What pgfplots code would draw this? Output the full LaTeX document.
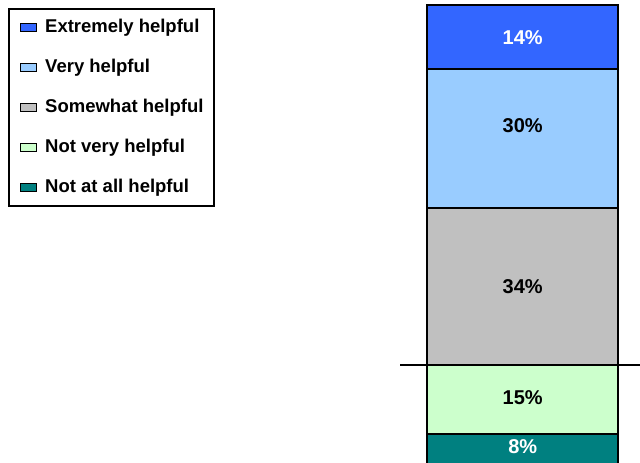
\documentclass[border=0pt]{standalone}
\usepackage{pgfplots}
\pgfplotsset{compat=1.18}
\usepackage{fontspec}
\setmainfont{Liberation Sans}
\definecolor{cExt}{HTML}{3366FF}
\definecolor{cVery}{HTML}{99CCFF}
\definecolor{cSome}{HTML}{C0C0C0}
\definecolor{cNotv}{HTML}{CCFFCC}
\definecolor{cNotall}{HTML}{008080}
\begin{document}
\begin{tikzpicture}
\begin{axis}[
  name=ax,
  scale only axis,
  width=640pt, height=480.1pt,
  xmin=0, xmax=640,
  ymin=-2, ymax=102.04,
  hide axis,
  clip=true,
  ybar stacked,
  bar width=191.5pt,
  reverse legend,
  legend cell align=left,
  legend style={
    at={(rel axis cs:0.0125,{1-8/480.1})}, anchor=north west,
    draw=black, line width=2pt,
    inner xsep=11pt, inner ysep=9.5pt,
    row sep=22pt,
    font=\bfseries\fontsize{18.5}{20}\selectfont,
    nodes={inner sep=0pt, text height=14pt, text depth=4pt},
    /tikz/every odd column/.append style={column sep=8pt},
  },
  legend image code/.code={\draw[#1, line width=1.2pt, draw=black] (0pt,-4pt) rectangle (16pt,4pt);},
]
\addplot[fill=cNotall, draw=black, line width=2pt] coordinates {(522.7,8)};
\addlegendentry{Not at all helpful}
\addplot[fill=cNotv, draw=black, line width=2pt] coordinates {(522.7,15)};
\addlegendentry{Not very helpful}
\addplot[fill=cSome, draw=black, line width=2pt] coordinates {(522.7,34)};
\addlegendentry{Somewhat helpful}
\addplot[fill=cVery, draw=black, line width=2pt] coordinates {(522.7,30)};
\addlegendentry{Very helpful}
\addplot[fill=cExt, draw=black, line width=2pt] coordinates {(522.7,14)};
\addlegendentry{Extremely helpful}
\draw[black, line width=2pt] (axis cs:400,23) -- (axis cs:640,23);
\end{axis}
\begin{scope}[every node/.style={font=\bfseries\fontsize{20}{22}\selectfont}]
\node[text=white] at ([xshift=522.7pt, yshift=-37.5pt]ax.north west) {14\%};
\node[text=black] at ([xshift=522.7pt, yshift=-126pt]ax.north west) {30\%};
\node[text=black] at ([xshift=522.7pt, yshift=-287pt]ax.north west) {34\%};
\node[text=black] at ([xshift=522.7pt, yshift=-397.5pt]ax.north west) {15\%};
\node[text=white] at ([xshift=522.7pt, yshift=-447pt]ax.north west) {8\%};
\end{scope}
\pgfresetboundingbox
\path[use as bounding box] (ax.north west) rectangle ([yshift=-463pt]ax.north east);
\end{tikzpicture}
\end{document}
